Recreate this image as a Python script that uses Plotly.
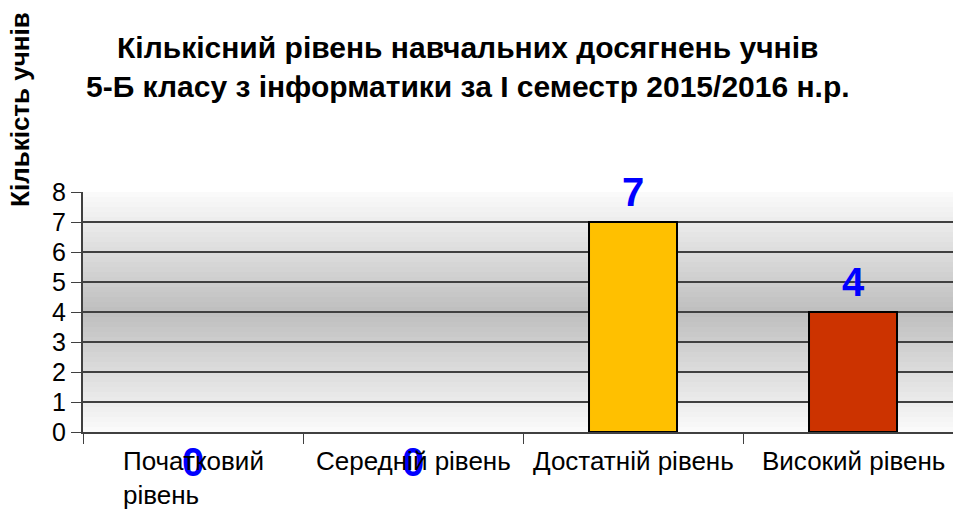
import plotly.graph_objects as go

categories = ["Початковий рівень", "Середній рівень", "Достатній рівень", "Високий рівень"]
category_labels = ["Початковий<br>рівень", "Середній рівень", "Достатній рівень", "Високий рівень"]
values = [0, 0, 7, 4]
bar_colors = ["#3366FF", "#33CC33", "#FFC000", "#CC3300"]
y_ticks = [0, 1, 2, 3, 4, 5, 6, 7, 8]

title_text = "Кількісний рівень навчальних досягнень учнів<br>5-Б класу з інформатики за І семестр 2015/2016 н.р."
y_title = "Кількість учнів"

FONT = "Liberation Sans, Arial, sans-serif"

fig = go.Figure()
fig.add_trace(go.Bar(
    x=categories, y=values,
    marker=dict(color=bar_colors,
                line=dict(color="#000000", width=[2 if v > 0 else 0 for v in values])),
    width=0.4,
    hoverinfo="x+y",
))

# gradient background (white -> gray -> white)
n = 48
shapes = []
for i in range(n):
    t = (i + 0.5) / n
    k = 1 - abs(2 * t - 1)
    g = int(round(251 - (251 - 190) * k))
    c = f"rgb({g},{g},{g})"
    shapes.append(dict(type="rect", xref="x domain", yref="y domain",
                       x0=0, x1=1, y0=i / n, y1=(i + 1) / n,
                       fillcolor=c, line=dict(width=0), layer="below"))

annotations = []
for cat, v in zip(categories, values):
    annotations.append(dict(
        x=cat, y=v, xref="x", yref="y", text=f"<b>{v}</b>", showarrow=False,
        font=dict(family=FONT, size=40, color="#0000FF"),
        yanchor="middle", xanchor="center",
        yshift=30 if v > 0 else -30,
    ))
for cat, lab in zip(categories, category_labels):
    annotations.append(dict(
        x=cat, y=0, xref="x", yref="y", text=lab, showarrow=False,
        font=dict(family=FONT, size=26, color="#000000"),
        yanchor="top", xanchor="center", align="left", yshift=-12,
    ))
annotations.append(dict(
    x=-0.0724, y=1.342, xref="paper", yref="paper", text=f"<b>{y_title}</b>",
    showarrow=False, textangle=-90, xanchor="center", yanchor="middle",
    font=dict(family=FONT, size=26, color="#000000"),
))
annotations.append(dict(
    x=0.442, y=1.519, xref="paper", yref="paper", text=f"<b>{title_text}</b>",
    showarrow=False, xanchor="center", yanchor="middle", align="center",
    font=dict(family=FONT, size=30, color="#000000"),
))

fig.update_layout(
    width=953, height=509,
    margin=dict(l=83, r=0, t=192, b=77),
    paper_bgcolor="#FFFFFF", plot_bgcolor="rgba(0,0,0,0)",
    showlegend=False,
    shapes=shapes,
    annotations=annotations,
)
fig.update_xaxes(
    type="category", range=[-0.5, 3.4545], showticklabels=False,
    ticks="outside", tickson="boundaries", ticklen=10, tickcolor="#404040",
    showline=True, linecolor="#404040", linewidth=2, showgrid=False, zeroline=False,
)
fig.update_yaxes(
    range=[0, 8], tickvals=y_ticks, ticks="outside", ticklen=10, tickcolor="#404040",
    showline=True, linecolor="#404040", linewidth=2,
    showgrid=True, gridcolor="#404040", gridwidth=1.5, zeroline=False,
    tickfont=dict(family=FONT, size=25, color="#000000"),
)

fig.write_html("out.html", config={"displayModeBar": False},
               post_script="document.body.style.margin='0';document.body.style.overflow='hidden';")
